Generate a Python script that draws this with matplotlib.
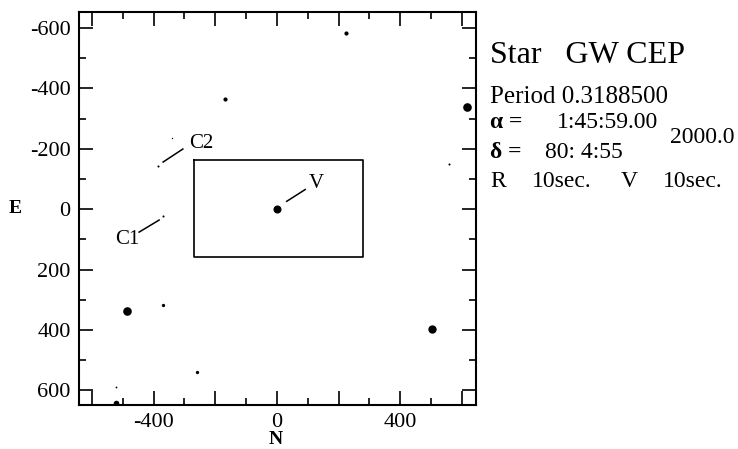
import matplotlib
matplotlib.use("Agg")
import matplotlib.pyplot as plt

plt.rcParams['font.family'] = ['Liberation Serif', 'DejaVu Serif']
plt.rcParams['axes.unicode_minus'] = False

# star positions (N, E offsets) and dot sizes in points
star_n = [0, -486, 617, 504, -167, 225, -369, -259, -522, -386, -369, -522, 559, -340]
star_e = [0, 338, -338, 397, -363, -583, 318, 540, 643, -142, 23, 590, -149, -235]
star_size = [5.8, 6.2, 6.2, 6.0, 3.0, 3.0, 2.4, 2.4, 4.0, 1.5, 1.5, 1.3, 1.5, 1.0]

# comparison box
box_n = [-270, 280, 280, -270, -270]
box_e = [-162, -162, 157, 157, -162]

# labels: text, line from, line to, text position
labels = ["C2", "C1", "V"]
lab_from = [(-369, -156), (-382, 36), (32, -26)]
lab_to = [(-305, -199), (-447, 76), (92, -65)]
lab_pos = [(-245, -218), (-485, 100), (128, -86)]

fig = plt.figure(figsize=(7.38, 4.49), dpi=100)
ax = fig.add_axes([0.107, 0.098, 0.538, 0.875])

for n, e, s in zip(star_n, star_e, star_size):
    ax.plot(n, e, 'o', color='black', markersize=s, markeredgewidth=0)

ax.plot(box_n, box_e, color='black', lw=1.2)

for lab, p0, p1, pt in zip(labels, lab_from, lab_to, lab_pos):
    ax.plot([p0[0], p1[0]], [p0[1], p1[1]], color='black', lw=1.1)
    ax.text(pt[0], pt[1], lab, fontsize=15, ha='center', va='center')

ax.set_xlim(-642, 646)
ax.set_ylim(648, -652)

xt = [-600, -400, -200, 0, 200, 400, 600]
ax.set_xticks(xt)
ax.set_xticklabels(['', '-400', '', '0', '', '400', ''])
ax.set_xticks(range(-600, 601, 100), minor=True)
yt = [-600, -400, -200, 0, 200, 400, 600]
ax.set_yticks(yt)
ax.set_yticklabels([str(v) for v in yt])
ax.set_yticks(range(-600, 601, 100), minor=True)
ax.tick_params(which='both', direction='in', top=True, right=True, labelsize=16, width=1.2)
ax.tick_params(which='major', length=10, pad=6)
ax.tick_params(which='minor', length=5)
for sp in ax.spines.values():
    sp.set_linewidth(1.5)

# axis names placed by hand, as in the original plot
fig.text(276 / 738, 1 - 439 / 449, 'N', fontsize=14, fontweight='bold', ha='center', va='center')
fig.text(15 / 738, 1 - 209 / 449, 'E', fontsize=14, fontweight='bold', ha='center', va='center')

fig.text(490 / 738, 1 - 63 / 449, 'Star   GW CEP', fontsize=23, ha='left', va='baseline')
fig.text(490 / 738, 1 - 103 / 449, 'Period 0.3188500', fontsize=18, ha='left', va='baseline')
fig.text(490 / 738, 1 - 128 / 449, 'α =', fontsize=17, fontweight='bold', ha='left', va='baseline')
fig.text(557 / 738, 1 - 128 / 449, '1:45:59.00', fontsize=17, ha='left', va='baseline')
fig.text(490 / 738, 1 - 158 / 449, 'δ =', fontsize=17, fontweight='bold', ha='left', va='baseline')
fig.text(545 / 738, 1 - 158 / 449, '80: 4:55', fontsize=17, ha='left', va='baseline')
fig.text(670 / 738, 1 - 143 / 449, '2000.0', fontsize=17, ha='left', va='baseline')
fig.text(490 / 738, 1 - 187 / 449, 'R', fontsize=17, ha='left', va='baseline')
fig.text(532 / 738, 1 - 187 / 449, '10sec.', fontsize=17, ha='left', va='baseline')
fig.text(621 / 738, 1 - 187 / 449, 'V', fontsize=17, ha='left', va='baseline')
fig.text(663 / 738, 1 - 187 / 449, '10sec.', fontsize=17, ha='left', va='baseline')

fig.savefig('out.png', dpi=100)
